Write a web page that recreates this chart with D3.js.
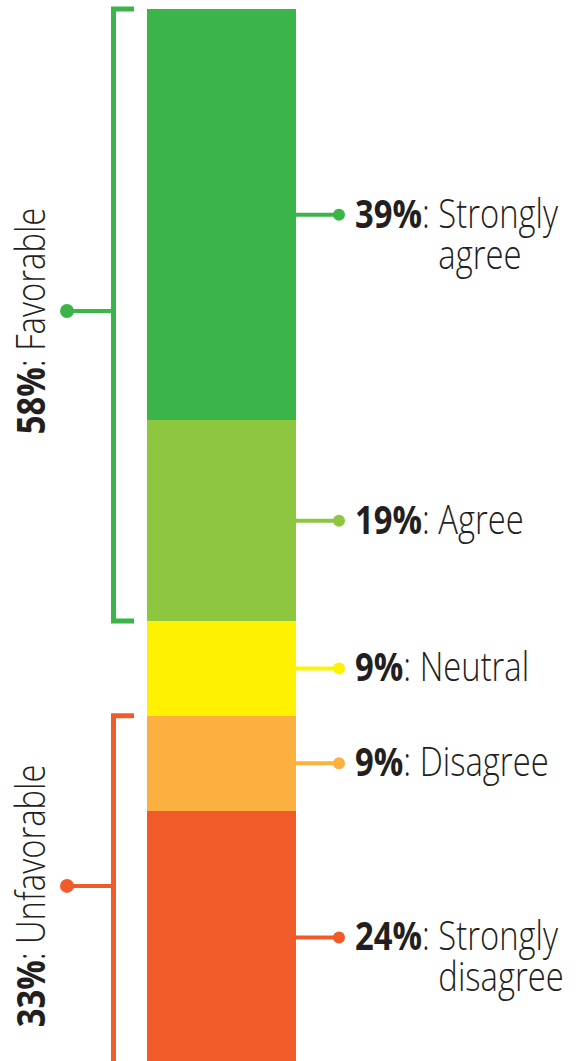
<!DOCTYPE html>
<html>
<head>
<meta charset="utf-8">
<script src="https://cdn.jsdelivr.net/npm/d3@7"></script>
<style>
  body { margin: 0; background: #fff; }
  svg { display: block; }
  text { font-family: "Open Sans", sans-serif; fill: #231f20; }
</style>
</head>
<body>
<svg id="chart" width="582" height="1061"></svg>
<script>
// survey answers, top to bottom
const categories = ["Strongly agree", "Agree", "Neutral", "Disagree", "Strongly disagree"];
const values = [39, 19, 9, 9, 24];

// summary brackets on the left
const groupNames = ["Favorable", "Unfavorable"];
const groupValues = [58, 33];
const groupFirst = [0, 3];
const groupLast = [1, 4];

const palette = ["#3bb54a", "#8dc63f", "#fff200", "#fbb040", "#f15a29"];
const groupPalette = ["#3bb54a", "#f15a29"];

const svg = d3.select("#chart");
const fontSize = 40, squeeze = 0.82, lineGap = 41;

const y = d3.scaleLinear().domain([0, 100]).range([9, 1064]);
const barX = 147, barW = 149;

let cum = 0;
const segs = values.map((v, i) => {
  const s = { i: i, name: categories[i], value: v, start: cum, end: cum + v };
  cum += v;
  return s;
});

// stacked bar
svg.selectAll("rect.seg")
  .data(segs)
  .enter()
  .append("rect")
  .attr("class", "seg")
  .attr("x", barX)
  .attr("width", barW)
  .attr("y", d => y(d.start))
  .attr("height", d => y(d.end) - y(d.start))
  .attr("fill", d => palette[d.i])
  .attr("shape-rendering", "crispEdges");

// right side leaders + labels
const dotX = 339;
segs.forEach(d => {
  const cy = (y(d.start) + y(d.end)) / 2;
  svg.append("line")
    .attr("x1", barX + barW).attr("x2", dotX)
    .attr("y1", cy).attr("y2", cy)
    .attr("stroke", palette[d.i]).attr("stroke-width", 4);
  svg.append("circle")
    .attr("cx", dotX).attr("cy", cy).attr("r", 6)
    .attr("fill", palette[d.i]);

  const words = d.name.split(" ");
  const t = svg.append("text")
    .attr("transform", "translate(355," + (cy + 13) + ") scale(" + squeeze + ",1)")
    .attr("font-size", fontSize);
  t.append("tspan").attr("font-weight", 700).text(d.value + "%");
  t.append("tspan").attr("font-weight", 300).text(": ");
  const w = t.append("tspan").attr("font-weight", 300).text(words[0]);
  if (words.length > 1) {
    const startX = w.node().getStartPositionOfChar(0).x;
    t.append("tspan").attr("font-weight", 300)
      .attr("x", startX).attr("dy", lineGap)
      .text(words.slice(1).join(" "));
  }
});

// left brackets
const armX = 134, spineX = 113.5, leftDotX = 67;
groupNames.forEach((g, k) => {
  const y0 = y(segs[groupFirst[k]].start);
  const y1 = y(segs[groupLast[k]].end);
  const mid = (y0 + y1) / 2;
  svg.append("path")
    .attr("d", "M" + armX + "," + y0 + "H" + spineX + "V" + y1 + "H" + armX)
    .attr("fill", "none")
    .attr("stroke", groupPalette[k])
    .attr("stroke-width", 5);
  svg.append("line")
    .attr("x1", leftDotX).attr("x2", spineX)
    .attr("y1", mid - 4).attr("y2", mid - 4)
    .attr("stroke", groupPalette[k]).attr("stroke-width", 4);
  svg.append("circle")
    .attr("cx", leftDotX).attr("cy", mid - 4).attr("r", 7)
    .attr("fill", groupPalette[k]);

  const t = svg.append("text")
    .attr("transform", "translate(45," + (mid + 6) + ") rotate(-90) scale(" + squeeze + ",1)")
    .attr("font-size", fontSize)
    .attr("text-anchor", "middle");
  t.append("tspan").attr("font-weight", 700).text(groupValues[k] + "%");
  t.append("tspan").attr("font-weight", 300).text(": " + g);
});
</script>
</body>
</html>
